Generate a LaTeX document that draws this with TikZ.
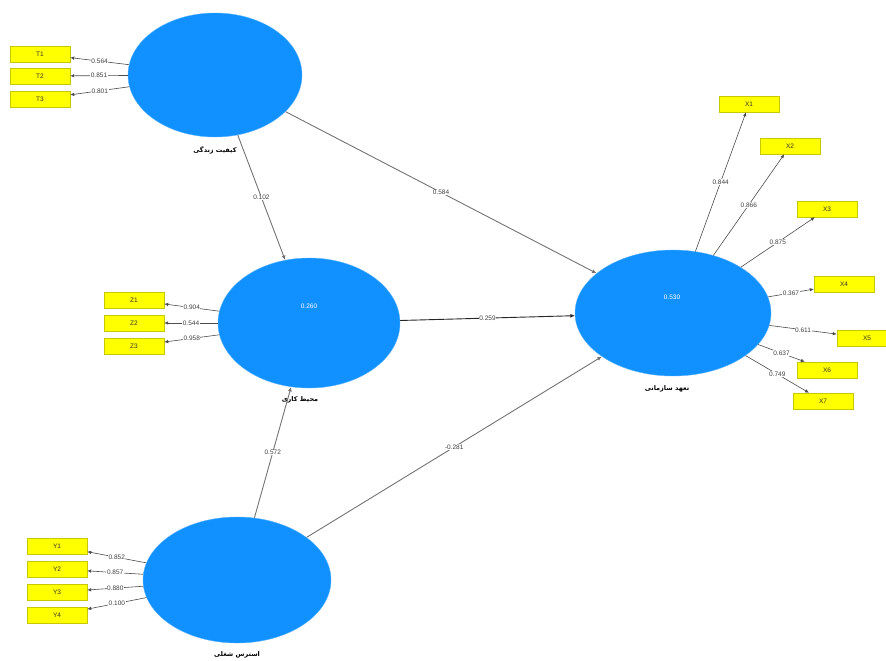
\documentclass[tikz,border=0pt]{standalone}
\usepackage{fontspec}
\setmainfont{Liberation Sans}
\newfontfamily\farsi[Script=Arabic]{DejaVu Sans}
\TeXXeTstate=1
\usetikzlibrary{shapes.geometric,arrows.meta}
\definecolor{latblue}{RGB}{17,145,255}
\definecolor{indyellow}{RGB}{255,255,0}
\definecolor{indedge}{RGB}{200,200,0}
\begin{document}
\begin{tikzpicture}
[x=1pt,y=-1pt,%
  latent/.style={shape=ellipse,fill=latblue,draw=latblue!70,inner sep=0pt},
  indic/.style={shape=rectangle,fill=indyellow,draw=indedge,minimum width=60pt,
    minimum height=16pt,inner sep=0pt,text=black!80,font=\fontsize{6.5}{7}\selectfont},
  loading/.style={draw=black!70,line width=0.6pt,-{Latex[length=4pt,width=3.5pt]}},
  structural/.style={draw=black!55,line width=0.9pt,-{Latex[length=4.5pt,width=4pt]}},
  coef/.style={fill=white,inner sep=0.6pt,text=black!75,font=\fontsize{6.5}{7}\selectfont},
  rsq/.style={text=white,font=\fontsize{6.5}{7}\selectfont},
  latname/.style={text=black,font=\farsi\bfseries\fontsize{6.5}{7}\selectfont}]
\useasboundingbox (0,0) rectangle (886,661);
% latent variables
\node[latent,minimum width=174pt,minimum height=124pt] (qol) at (215,75) {};
\node[latent,minimum width=182pt,minimum height=130pt] (work) at (309,323) {};
\node[latent,minimum width=196pt,minimum height=126pt] (org) at (673,313) {};
\node[latent,minimum width=188pt,minimum height=126pt] (stress) at (237,580) {};
\node[rsq] (work r2) at (309,306) {0.260};
\node[rsq] (org r2) at (672,297) {0.530};
\node[latname] (qol name) at (215,150) {\beginR کیفیت زندگی\endR};
\node[latname] (work name) at (300,400) {\beginR محیط کاری\endR};
\node[latname] (org name) at (667,389) {\beginR تعهد سازمانی\endR};
\node[latname] (stress name) at (237,655) {\beginR استرس شغلی\endR};
% indicators
\foreach \n/\y/\v in {1/54/0.564,2/76/0.851,3/99/0.801}{
  \node[indic] (t\n) at (40,\y) {T\n};
  \draw[loading] (qol) -- (t\n) node[coef,midway] {\v};
}
\foreach \n/\y/\v in {1/300/0.904,2/323/0.544,3/346/0.958}{
  \node[indic] (z\n) at (134,\y) {Z\n};
  \draw[loading] (work) -- (z\n) node[coef,midway] {\v};
}
\foreach \n/\y/\v in {1/546/0.852,2/569/0.857,3/592/0.880,4/615/0.100}{
  \node[indic] (y\n) at (57,\y) {Y\n};
  \draw[loading] (stress) -- (y\n) node[coef,midway] {\v};
}
\foreach \n/\x/\y/\v in {1/749/104/0.844,2/790/146/0.866,3/827/209/0.875,
    4/844/284/0.367,5/867/338/0.611,6/827/370/0.637,7/823/401/0.749}{
  \node[indic] (x\n) at (\x,\y) {X\n};
  \draw[loading] (org) -- (x\n) node[coef,midway] {\v};
}
% paths
\draw[structural] (qol) -- (work) node[coef,midway] {0.102};
\draw[structural] (qol) -- (org) node[coef,midway] {0.584};
\draw[structural,draw=black!85] (work) -- (org) node[coef,midway] {0.259};
\draw[structural] (stress) -- (work) node[coef,midway] {0.572};
\draw[structural] (stress) -- (org) node[coef,midway] {-0.281};
\end{tikzpicture}
\end{document}
